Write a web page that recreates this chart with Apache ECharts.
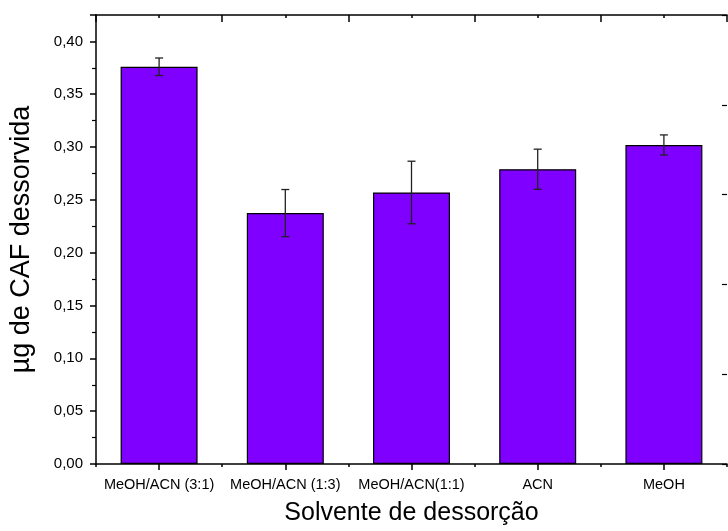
<!DOCTYPE html>
<html>
<head>
<meta charset="utf-8">
<script src="https://cdn.jsdelivr.net/npm/echarts@6/dist/echarts.min.js"></script>
<style>html,body{margin:0;padding:0;background:#fff}#c{width:728px;height:531px}</style>
</head>
<body>
<div id="c"></div>
<script>
const categories = ['MeOH/ACN (3:1)', 'MeOH/ACN (1:3)', 'MeOH/ACN(1:1)', 'ACN', 'MeOH'];
const values = [0.376, 0.2375, 0.257, 0.279, 0.302];
const errors = [0.0083, 0.0223, 0.0296, 0.019, 0.0095];
const yTicks = [0, 0.05, 0.10, 0.15, 0.20, 0.25, 0.30, 0.35, 0.40];

const FONT = '"Liberation Sans", Arial, sans-serif';
const chart = echarts.init(document.getElementById('c'), null, {renderer: 'canvas'});

const errData = categories.map((c, i) => [i, values[i] - errors[i], values[i] + errors[i]]);

const lineStyle = {color: '#000', width: 1.5};

chart.setOption({
  animation: false,
  backgroundColor: '#fff',
  grid: {left: 95, top: 15, right: 1, bottom: 62, containLabel: false},
  xAxis: [
    { // bottom main: ticks at centers
      type: 'category', data: categories, position: 'bottom',
      axisLine: {show: true, onZero: false, lineStyle: lineStyle},
      axisTick: {show: true, alignWithLabel: true, length: 6, inside: false, lineStyle: lineStyle},
      axisLabel: {color: '#000', fontFamily: FONT, fontSize: 14.5, margin: 13, interval: 0},
      splitLine: {show: false},
      name: 'Solvente de dessorção', nameLocation: 'middle', nameGap: 37,
      nameTextStyle: {color: '#000', fontFamily: FONT, fontSize: 25}
    },
    { // bottom boundaries: short ticks
      type: 'category', data: categories, position: 'bottom', gridIndex: 0,
      axisLine: {show: false, onZero: false},
      axisTick: {show: true, alignWithLabel: false, length: 3, lineStyle: lineStyle},
      axisLabel: {show: false}, splitLine: {show: false}
    },
    { // top boundaries: longer inward ticks
      type: 'category', data: categories, position: 'top',
      axisLine: {show: true, onZero: false, lineStyle: lineStyle},
      axisTick: {show: true, alignWithLabel: false, inside: true, length: 7, lineStyle: lineStyle},
      axisLabel: {show: false}, splitLine: {show: false}
    },
    { // top centers: short inward ticks
      type: 'category', data: categories, position: 'top',
      axisLine: {show: false, onZero: false},
      axisTick: {show: true, alignWithLabel: true, inside: true, length: 3, lineStyle: lineStyle},
      axisLabel: {show: false}, splitLine: {show: false}
    }
  ],
  yAxis: [
    {
      type: 'value', min: 0, max: 0.425, interval: 0.05, position: 'left',
      axisLine: {show: true, onZero: false, lineStyle: lineStyle},
      axisTick: {show: true, length: 6, lineStyle: lineStyle},
      minorTick: {show: true, splitNumber: 2, length: 4, lineStyle: {color: '#000', width: 1.2}},
      axisLabel: {
        color: '#000', fontFamily: FONT, fontSize: 15, margin: 13,
        formatter: function (v) {
          const hit = yTicks.find(t => Math.abs(t - v) < 1e-9);
          return hit === undefined ? '' : hit.toFixed(2).replace('.', ',');
        }
      },
      splitLine: {show: false},
      name: 'µg de CAF dessorvida', nameLocation: 'middle', nameGap: 61,
      nameTextStyle: {color: '#000', fontFamily: FONT, fontSize: 27}
    },
    {
      type: 'value', min: 0, max: 5, interval: 1, position: 'right',
      axisLine: {show: false},
      axisTick: {show: true, inside: true, length: 5, lineStyle: {color: '#000', width: 1.2}},
      axisLabel: {show: false}, splitLine: {show: false}
    }
  ],
  series: [
    {
      type: 'bar', data: values, xAxisIndex: 0, yAxisIndex: 0,
      barWidth: '61%',
      itemStyle: {color: '#8000FF', borderColor: '#000', borderWidth: 1.2}
    },
    {
      type: 'custom', xAxisIndex: 0, yAxisIndex: 0, data: errData, z: 10,
      renderItem: function (params, api) {
        const i = api.value(0);
        const lo = api.coord([i, api.value(1)]);
        const hi = api.coord([i, api.value(2)]);
        const hw = 4;
        const st = {stroke: '#222', lineWidth: 1.3};
        return {
          type: 'group',
          children: [
            {type: 'line', shape: {x1: hi[0], y1: hi[1], x2: lo[0], y2: lo[1]}, style: st},
            {type: 'line', shape: {x1: hi[0] - hw, y1: hi[1], x2: hi[0] + hw, y2: hi[1]}, style: st},
            {type: 'line', shape: {x1: lo[0] - hw, y1: lo[1], x2: lo[0] + hw, y2: lo[1]}, style: st}
          ]
        };
      }
    }
  ]
});
</script>
</body>
</html>
